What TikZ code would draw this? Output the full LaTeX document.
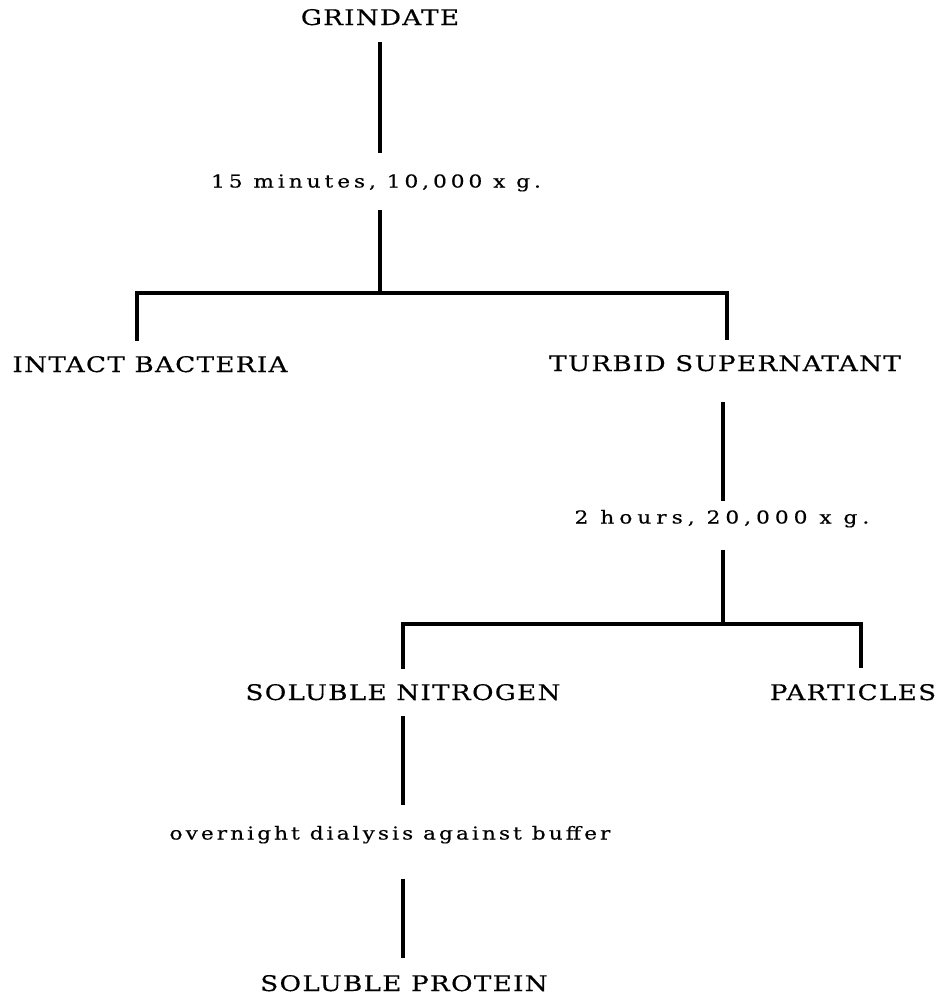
\documentclass[tikz,border=0pt]{standalone}
\usepackage{fontspec}
\setmainfont{DejaVu Serif}
\usepackage{tikz}

\begin{document}
\begin{tikzpicture}[
					x=1pt,y=-1pt,
					stage/.style={inner sep=0pt,outer sep=0pt,text height=16pt,text depth=0pt,font=\fontsize{21.5}{26}\selectfont\addfontfeature{FakeStretch=1.22,FakeBold=0.4,LetterSpace=6}},
					spin/.style={inner sep=0pt,outer sep=0pt,text height=13pt,text depth=0pt,font=\fontsize{17.8}{22}\selectfont\addfontfeature{FakeStretch=1.22,FakeBold=0.4,LetterSpace=#1}},
					spin/.default=20,
					link/.style={draw=black,line width=3.3pt}
					]
					\useasboundingbox (0,0) rectangle (950,999);
					\node[stage] (grind) at (380,17) {GRINDATE};
					\node[spin=22] (spin1) at (376,181) {15 minutes, 10,000 x g.};
					\node[stage] (intact) at (150,364) {INTACT BACTERIA};
					\node[stage] (turbid) at (725,363) {TURBID SUPERNATANT};
					\node[spin=28] (spin2) at (722,517) {2 hours, 20,000 x g.};
					\node[stage] (solN) at (403,692) {SOLUBLE NITROGEN};
					\node[stage] (part) at (853,692) {PARTICLES};
					\node[spin=17] (dial) at (390,833) {overnight dialysis against buffer};
					\node[stage] (solP) at (404,983) {SOLUBLE PROTEIN};
					\coordinate (j1) at (380,293);
					\coordinate (b1l) at (137,293);
					\coordinate (b1r) at (727,293);
					\coordinate (j2) at (723,624);
					\coordinate (b2l) at (403,624);
					\coordinate (b2r) at (861,624);
					\draw[link,shorten <=17pt,shorten >=22pt] (grind.south -| j1) -- (spin1.north -| j1);
					\draw[link,shorten <=22pt] (spin1.south -| j1) -- (j1);
					\draw[link,shorten <=15pt,shorten >=15pt] (b1l |- intact.north) -- (b1l) -- (b1r) -- (b1r |- turbid.north);
					\draw[link,shorten <=31pt,shorten >=10pt] (turbid.south -| j2) -- (spin2.north -| j2);
					\draw[link,shorten <=26pt] (spin2.south -| j2) -- (j2);
					\draw[link,shorten <=15pt,shorten >=16pt] (b2l |- solN.north) -- (b2l) -- (b2r) -- (b2r |- part.north);
					\draw[link,shorten <=16pt,shorten >=22pt] (solN.south) -- (solN.south |- dial.north);
					\draw[link,shorten <=39pt,shorten >=17pt] (solN.south |- dial.south) -- (solN.south |- solP.north);
				\end{tikzpicture}
\end{document}
